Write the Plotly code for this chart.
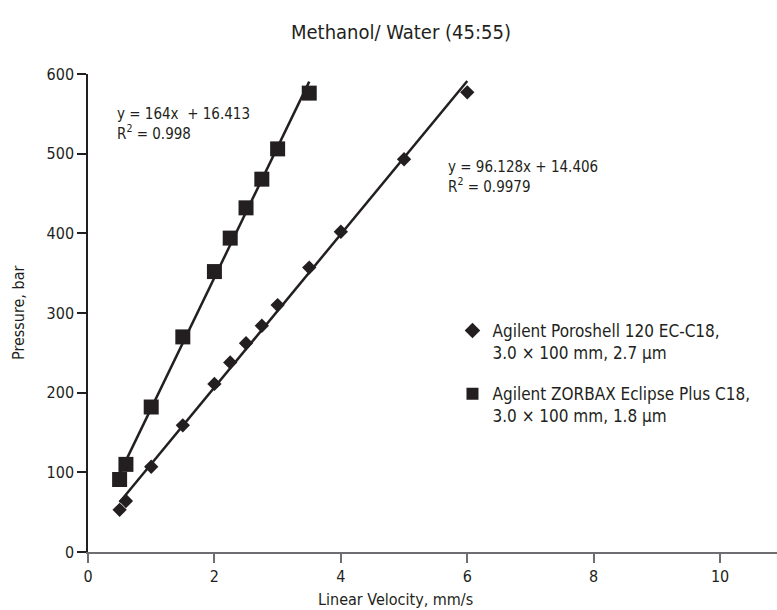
import plotly.graph_objects as go

# Data
zorbax_x = [0.5, 0.6, 1.0, 1.5, 2.0, 2.25, 2.5, 2.75, 3.0, 3.5]
zorbax_y = [91, 110, 182, 270, 352, 394, 432, 468, 506, 576]
poro_x = [0.5, 0.6, 1.0, 1.5, 2.0, 2.25, 2.5, 2.75, 3.0, 3.5, 4.0, 5.0, 6.0]
poro_y = [53, 64, 107, 159, 211, 238, 262, 284, 310, 357, 402, 493, 577]
zorbax_fit = (164.0, 16.413)
poro_fit = (96.128, 14.406)
x_ticks = [0, 2, 4, 6, 8, 10]
y_ticks = [0, 100, 200, 300, 400, 500, 600]

FONT = "Liberation Sans Narrow, DejaVu Sans Condensed, Arial Narrow, sans-serif"
INK = "#231f20"

fig = go.Figure()

# Fit lines
for xs, (m, b) in [(zorbax_x, zorbax_fit), (poro_x, poro_fit)]:
    lx = [min(xs), max(xs)]
    fig.add_trace(go.Scatter(x=lx, y=[m * v + b for v in lx], mode="lines",
                             line=dict(color=INK, width=2.5), showlegend=False,
                             hoverinfo="skip"))

fig.add_trace(go.Scatter(x=poro_x, y=poro_y, mode="markers", legendgroup="p",
                         marker=dict(symbol="diamond", size=11, color=INK),
                         name="Agilent Poroshell 120 EC-C18,<br>3.0 × 100 mm, 2.7 µm"))
fig.add_trace(go.Scatter(x=zorbax_x, y=zorbax_y, mode="markers", legendgroup="z",
                         marker=dict(symbol="square", size=15, color=INK),
                         name="Agilent ZORBAX Eclipse Plus C18,<br>3.0 × 100 mm, 1.8 µm"))

fig.update_layout(
    width=777, height=610,
    margin=dict(l=88, r=0, t=74, b=58),
    paper_bgcolor="white", plot_bgcolor="white",
    font=dict(family=FONT, size=15, color=INK),
    showlegend=True,
    legend=dict(x=0.529, y=0.50, xanchor="left", yanchor="top",
                valign="top", tracegroupgap=16, font=dict(size=17),
                bgcolor="rgba(0,0,0,0)", itemsizing="constant"),
    xaxis=dict(range=[0, 10.9], tickvals=x_ticks, showgrid=False, zeroline=False,
               showline=True, linecolor="#6d6e71", linewidth=1.5,
               ticks="outside", ticklen=9, tickcolor="#6d6e71", tickwidth=1.5,
               tickfont=dict(size=16)),
    yaxis=dict(range=[0, 600], tickvals=y_ticks, showgrid=False, zeroline=False,
               showline=True, linecolor=INK, linewidth=1.5,
               ticks="outside", ticklen=9, tickcolor=INK, tickwidth=1.5,
               tickfont=dict(size=16)),
    annotations=[
        dict(text="Methanol/ Water (45:55)", xref="paper", yref="paper",
             x=(401 - 88) / 689, y=1, yshift=42, showarrow=False,
             font=dict(size=20), xanchor="center", yanchor="middle"),
        dict(text="Linear Velocity, mm/s", xref="paper", yref="paper",
             x=(395 - 88) / 689, y=0, yshift=-47, showarrow=False,
             font=dict(size=16), xanchor="center", yanchor="middle"),
        dict(text="Pressure, bar", xref="paper", yref="paper", textangle=-90,
             x=0, xshift=-70, y=0.5, showarrow=False,
             font=dict(size=16), xanchor="center", yanchor="middle"),
        dict(text="y = 164x  + 16.413<br>R<sup>2</sup> = 0.998", xref="x", yref="y",
             x=0.42, y=564, showarrow=False, align="left", xanchor="left",
             yanchor="top", font=dict(size=15)),
        dict(text="y = 96.128x + 14.406<br>R<sup>2</sup> = 0.9979", xref="x", yref="y",
             x=5.66, y=497, showarrow=False, align="left", xanchor="left",
             yanchor="top", font=dict(size=15)),
    ],
)

fig.write_html("out.html")
